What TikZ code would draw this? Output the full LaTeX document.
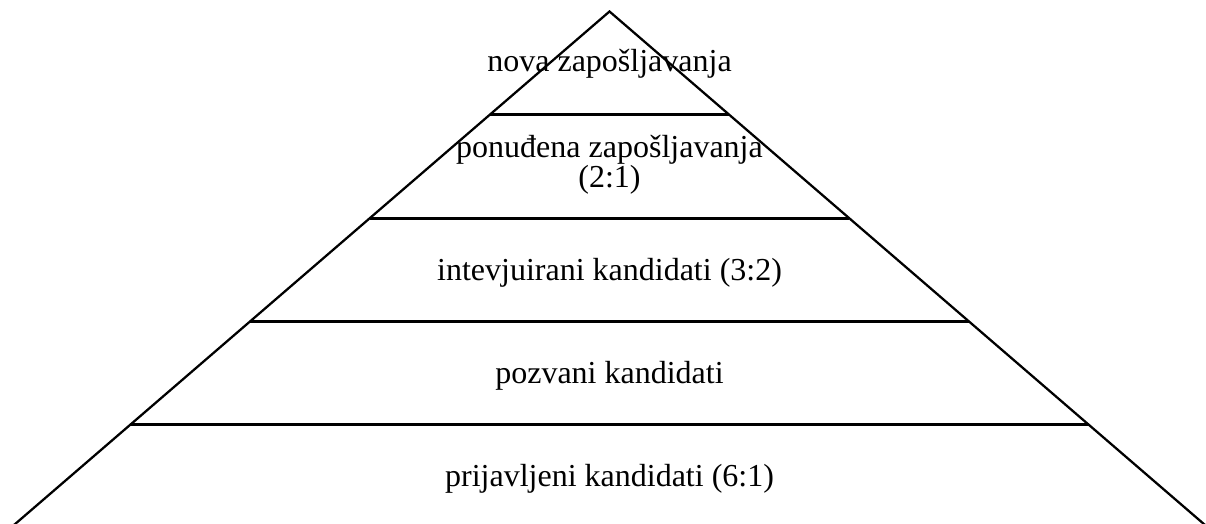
\documentclass[tikz,border=0pt]{standalone}
\usepackage{fontspec}
\setmainfont{Liberation Serif}
\usetikzlibrary{calc}
\begin{document}
\begin{tikzpicture}[x=0.75pt,y=-0.75pt,
  side/.style={line width=1.7pt,black},
  layer/.style={line width=2.2pt,black},
  lbl/.style={anchor=base,inner sep=0pt,font=\fontsize{24}{29}\selectfont,align=center}]
\useasboundingbox (0,0) rectangle (1206,524);
\coordinate (apex) at (609.5,11.5);
\coordinate (bl) at (10.5,528);
\coordinate (br) at (1208.5,528);
\draw[side] (bl) -- (apex) -- (br);
\foreach \t in {0.2,0.4,0.6,0.8}{
  \draw[layer] ($(apex)!\t!(bl)$) -- ($(apex)!\t!(br)$);
}
\node[lbl] (l1) at (609.5,71.5) {nova zapošljavanja};
\node[lbl] (l2a) at (609.5,158) {ponuđena zapošljavanja};
\node[lbl] (l2b) at (609.5,187) {(2:1)};
\node[lbl] (l3) at (609.5,280) {intevjuirani kandidati (3:2)};
\node[lbl] (l4) at (609.5,383) {pozvani kandidati};
\node[lbl] (l5) at (609.5,486) {prijavljeni kandidati (6:1)};
\end{tikzpicture}
\end{document}
